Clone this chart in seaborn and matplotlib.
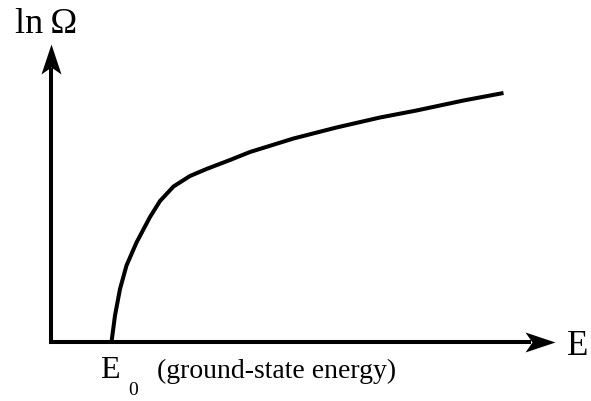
import numpy as np
import matplotlib
matplotlib.use("Agg")
import matplotlib.pyplot as plt
from matplotlib.path import Path
import seaborn as sns
import pandas as pd

sns.set_theme(style="white")
plt.rcParams["font.family"] = ["Liberation Serif", "DejaVu Serif"]

# Density of states: ln(Omega) as a function of energy E (arbitrary units)
energy = [1.21, 1.28, 1.38, 1.51, 1.71, 1.98, 2.18, 2.45, 2.78, 3.11,
          3.58, 3.98, 4.85, 5.71, 6.58, 7.31, 8.25, 9.05]
ln_omega = [0.00, 0.53, 1.06, 1.53, 1.99, 2.50, 2.82, 3.11, 3.32, 3.46,
            3.64, 3.80, 4.07, 4.29, 4.49, 4.63, 4.83, 4.98]

x_label = "E"
y_label = "ln\u2009\u03a9"
e0_label = "E"
e0_sub = "0"
e0_note = "(ground-state energy)"

W, H = 591, 402
fig = plt.figure(figsize=(W / 100, H / 100), dpi=100)
fig.patch.set_facecolor("white")

# axes: origin at (51, 343) px, x arrow tip at 555 px, y arrow tip at 45 px
x0, y0, x1, y1 = 51, 343, 555, 45
ax = fig.add_axes([x0 / W, (H - y0) / H, (x1 - x0) / W, (y0 - y1) / H])
ax.set_xlim(0, (x1 - x0) / 50)
ax.set_ylim(0, (y0 - y1) / 50)
ax.axis("off")

df = pd.DataFrame({"E": energy, "lnOmega": ln_omega})
sns.lineplot(data=df, x="E", y="lnOmega", ax=ax, color="black",
             linewidth=2.9, sort=False, estimator=None, clip_on=False)
for ln in ax.get_lines():
    ln.set_solid_capstyle("butt")
    ln.set_solid_joinstyle("round")
    ln.set_antialiased(True)

lw_axes = 2.9
head_len_px = 30.0
fx = 1 - (head_len_px - 6) / (x1 - x0)
fy = 1 - (head_len_px - 6) / (y0 - y1)
ax.plot([0, 0, fx], [fy, 0, 0], transform=ax.transAxes, color="black",
        lw=lw_axes, solid_joinstyle="miter", solid_capstyle="butt",
        clip_on=False)

# notched arrowheads as path markers anchored at the tip
right_head = Path([(0, 0), (-30, 10), (-23, 0), (-30, -10), (0, 0)],
                  [Path.MOVETO, Path.LINETO, Path.LINETO, Path.LINETO,
                   Path.CLOSEPOLY])
up_head = Path([(0, 0), (10, -30), (0, -23), (-10, -30), (0, 0)],
               [Path.MOVETO, Path.LINETO, Path.LINETO, Path.LINETO,
                Path.CLOSEPOLY])
ms = 2 * head_len_px * 72 / 100
ax.plot([1], [0], transform=ax.transAxes, marker=right_head, markersize=ms,
        color="black", markeredgewidth=0, clip_on=False)
ax.plot([0], [1], transform=ax.transAxes, marker=up_head, markersize=ms,
        color="black", markeredgewidth=0, clip_on=False)

def put(txt, px, py, size):
    fig.text(px / W, 1 - py / H, txt, fontsize=size, ha="left",
             va="baseline", color="black")

put(y_label, 15, 33, 26)
put(x_label, 567, 355, 25)
put(e0_label, 100, 378, 23)
put(e0_sub, 128, 395, 14)
put(e0_note, 157, 378, 20)

fig.savefig("out.png", dpi=100, facecolor="white")
